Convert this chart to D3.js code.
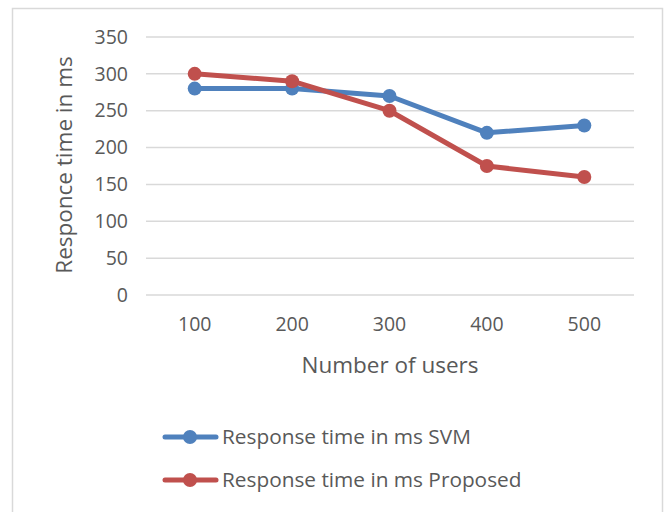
<!DOCTYPE html>
<html><head><meta charset="utf-8">
<script src="https://cdn.jsdelivr.net/npm/d3@7"></script>
<style>body{margin:0;background:#fff}</style>
</head><body>
<script>
const categories = ["100","200","300","400","500"];
const svmValues = [280,280,270,220,230];
const proposedValues = [300,290,250,175,160];
const yTicks = [0,50,100,150,200,250,300,350];
const seriesNames = ["Response time in ms SVM","Response time in ms Proposed"];
const colors = ["#4f81bd","#c0504d"];

const W=665,H=512;
const svg=d3.select("body").append("svg").attr("width",W).attr("height",H);
const font="'Open Sans', sans-serif";
svg.append("rect").attr("x",12.5).attr("y",8.5).attr("width",650).attr("height",510)
  .attr("fill","#fff").attr("stroke","#d9d9d9").attr("stroke-width",1.5);

const x=d3.scaleBand().domain(categories).range([146,633]);
const y=d3.scaleLinear().domain([0,350]).range([295,37]);

const g=svg.append("g");
g.selectAll(".grid").data(yTicks).enter().append("line")
  .attr("x1",146).attr("x2",634).attr("y1",d=>y(d)).attr("y2",d=>y(d))
  .attr("stroke","#d9d9d9").attr("stroke-width",1.5);

const yAxis=svg.append("g").attr("transform","translate(146,0)")
  .call(d3.axisLeft(y).tickValues(yTicks).tickSize(0).tickPadding(18));
yAxis.select(".domain").remove();
yAxis.selectAll("text").attr("font-family",font).attr("font-size",19.5).attr("fill","#595959");

const xAxis=svg.append("g").attr("transform","translate(0,295)")
  .call(d3.axisBottom(x).tickSize(0).tickPadding(22));
xAxis.select(".domain").remove();
xAxis.selectAll("text").attr("font-family",font).attr("font-size",19.5).attr("fill","#595959");

svg.append("text").attr("x",390).attr("y",373).attr("text-anchor","middle")
  .attr("font-family",font).attr("font-size",22.5).attr("fill","#595959").text("Number of users");
svg.append("text").attr("transform","translate(72,165) rotate(-90)").attr("text-anchor","middle")
  .attr("font-family",font).attr("font-size",22.5).attr("fill","#595959").text("Responce time in ms");

const series=[svmValues,proposedValues];
const line=d3.line().x((d,i)=>x(categories[i])+x.bandwidth()/2).y(d=>y(d));
series.forEach((vals,k)=>{
  svg.append("path").datum(vals).attr("d",line).attr("fill","none")
    .attr("stroke",colors[k]).attr("stroke-width",5).attr("stroke-linejoin","round");
  svg.selectAll(".m"+k).data(vals).enter().append("circle")
    .attr("cx",(d,i)=>x(categories[i])+x.bandwidth()/2).attr("cy",d=>y(d)).attr("r",7)
    .attr("fill",colors[k]);
});

const legY=[437,480];
seriesNames.forEach((n,k)=>{
  svg.append("line").attr("x1",165).attr("x2",216).attr("y1",legY[k]).attr("y2",legY[k])
    .attr("stroke",colors[k]).attr("stroke-width",5).attr("stroke-linecap","round");
  svg.append("circle").attr("cx",190).attr("cy",legY[k]).attr("r",7).attr("fill",colors[k]);
  svg.append("text").attr("x",222).attr("y",legY[k]).attr("dy","0.35em")
    .attr("font-family",font).attr("font-size",20.8).attr("fill","#595959").text(n);
});
</script>
</body></html>
